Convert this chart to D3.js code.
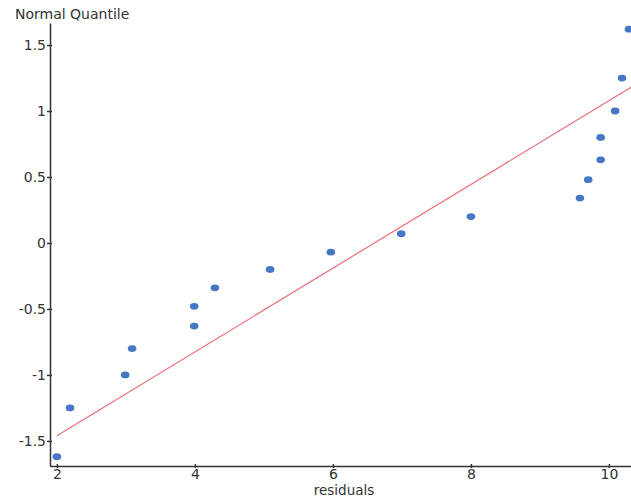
<!DOCTYPE html>
<html>
<head>
<meta charset="utf-8">
<script src="https://cdn.jsdelivr.net/npm/d3@7"></script>
<style>
  body { margin: 0; background: #fff; }
  text { font-family: "DejaVu Sans", Verdana, sans-serif; fill: #333; }
</style>
</head>
<body>
<svg id="chart" width="631" height="497"></svg>
<script>
// residuals vs normal quantiles
var residuals = [2.0, 2.19, 2.99, 3.09, 3.99, 3.99, 4.29, 5.09, 5.97,
                 6.99, 8.0, 9.58, 9.7, 9.88, 9.88, 10.09, 10.19, 10.29];
var quantiles = [-1.62, -1.25, -1.0, -0.8, -0.63, -0.48, -0.34, -0.2, -0.07,
                 0.07, 0.2, 0.34, 0.48, 0.63, 0.8, 1.0, 1.25, 1.62];

// reference line end points
var lineX = [2.0, 10.32];
var lineY = [-1.46, 1.18];

var xTicks = [2, 4, 6, 8, 10];
var yTicks = [-1.5, -1, -0.5, 0, 0.5, 1, 1.5];

var svg = d3.select("#chart");

var x = d3.scaleLinear().domain([1.9, 10.32]).range([50, 631]);
var y = d3.scaleLinear().domain([-1.69, 1.667]).range([466, 23]);

// plain hyphen for negatives, like the original
var fmt = function(d) { return String(d); };

var xAxis = svg.append("g")
    .attr("class", "x axis")
    .attr("transform", "translate(0," + y.range()[0] + ")")
    .call(d3.axisBottom(x).tickValues(xTicks).tickSizeOuter(0).tickSizeInner(2).tickPadding(1)
        .tickFormat(fmt));

var yAxis = svg.append("g")
    .attr("class", "y axis")
    .attr("transform", "translate(" + x.range()[0] + ",0)")
    .call(d3.axisLeft(y).tickValues(yTicks).tickSizeOuter(0).tickSizeInner(3).tickPadding(1)
        .tickFormat(fmt));

// ticks cross the axis line a little
xAxis.selectAll(".tick line").attr("y1", -2);
yAxis.selectAll(".tick line").attr("x1", 2);

svg.selectAll(".axis path, .axis line")
    .attr("stroke", "#333")
    .attr("stroke-width", 1.5);

svg.selectAll(".axis text")
    .style("font-size", "14px")
    .style("fill", "#333");

svg.append("line")
    .attr("x1", x(lineX[0])).attr("y1", y(lineY[0]))
    .attr("x2", x(lineX[1])).attr("y2", y(lineY[1]))
    .attr("stroke", "#ec6f74")
    .attr("stroke-width", 1.2);

svg.selectAll("ellipse.pt")
    .data(residuals)
  .enter().append("ellipse")
    .attr("class", "pt")
    .attr("cx", function(d) { return x(d); })
    .attr("cy", function(d, i) { return y(quantiles[i]); })
    .attr("rx", 4.3)
    .attr("ry", 3.4)
    .attr("fill", "#4677c4");

svg.append("text")
    .attr("x", 15)
    .attr("y", 19)
    .style("font-size", "14px")
    .text("Normal Quantile");

svg.append("text")
    .attr("x", 344)
    .attr("y", 495)
    .attr("text-anchor", "middle")
    .style("font-size", "13.5px")
    .text("residuals");
</script>
</body>
</html>
